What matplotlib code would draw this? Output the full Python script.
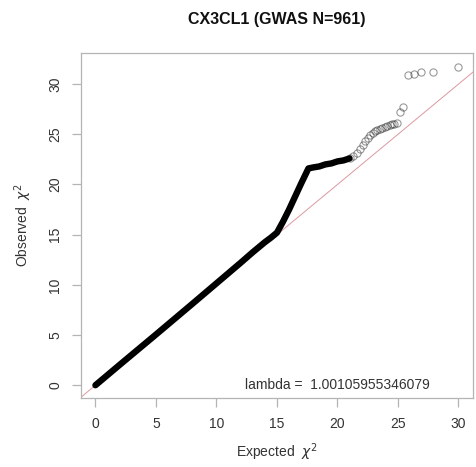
import matplotlib
matplotlib.use("Agg")
import matplotlib.pyplot as plt

plt.rcParams['font.family'] = ['Liberation Sans', 'DejaVu Sans']
plt.rcParams['mathtext.fontset'] = 'dejavusans'

title = "CX3CL1 (GWAS N=961)"
lambda_value = "1.00105955346079"

# dense part of the QQ curve (overlapping points -> solid black band)
dense_expected = [0, 2, 5, 8, 10, 12, 13, 14, 14.5, 15.0, 15.5, 16.0, 16.5, 17.0, 17.6,
                  18.0, 18.5, 19.0, 19.5, 20.0, 20.5, 21.0]
dense_observed = [0, 2.03, 5.05, 8.1, 10.15, 12.2, 13.25, 14.25, 14.7, 15.2, 16.3, 17.5, 18.8, 20.1, 21.6,
                  21.7, 21.8, 22.0, 22.1, 22.3, 22.4, 22.6]

# sparse tail, individual circles
tail_expected = [21.0, 21.3, 21.6, 21.9, 22.1, 22.3, 22.5, 22.7, 22.9, 23.1, 23.3, 23.5, 23.7,
                 23.9, 24.1, 24.3, 24.5, 24.7, 24.9, 25.2, 25.4, 25.8, 26.3, 26.9, 27.9, 30.0]
tail_observed = [22.6, 22.8, 23.1, 23.5, 23.9, 24.3, 24.6, 24.9, 25.1, 25.3, 25.4, 25.5, 25.6,
                 25.7, 25.8, 25.9, 26.0, 26.05, 26.1, 27.2, 27.7, 30.9, 31.0, 31.2, 31.2, 31.7]

xticks = [0, 5, 10, 15, 20, 25, 30]
yticks = [0, 5, 10, 15, 20, 25, 30]

fig = plt.figure(figsize=(4.76, 4.67), dpi=100)
ax = fig.add_axes([0.170, 0.1478, 0.8237, 0.7387])

box_col = '#b4b4b4'
txt_col = '#333333'

# y = x reference line
ax.axline((0, 0), slope=1, color='#dc98a0', lw=0.7, zorder=1)

ax.plot(dense_expected, dense_observed, color='black', lw=4.6, solid_capstyle='round',
        solid_joinstyle='round', zorder=2)
ax.plot(tail_expected, tail_observed, linestyle='none', marker='o', markersize=5.2,
        markerfacecolor='none', markeredgecolor=(0, 0, 0, 0.4), markeredgewidth=0.8, zorder=3)

ax.set_xlim(-1.2, 31.2)
ax.set_ylim(-1.27, 33.1)
ax.set_xticks(xticks)
ax.set_yticks(yticks)
ax.set_yticklabels([str(t) for t in yticks], rotation=90, va='center')

for s in ax.spines.values():
    s.set_color(box_col)
    s.set_linewidth(0.9)
ax.tick_params(length=6.5, width=0.9, color=box_col, labelcolor=txt_col, labelsize=10, pad=7)

ax.set_xlabel(r"Expected  $\chi^2$", fontsize=10, color=txt_col, labelpad=8)
ax.set_ylabel(r"Observed  $\chi^2$", fontsize=10, color=txt_col, labelpad=10)

ax.text(20.0, 0.0, "lambda =  " + lambda_value, ha='center', va='center', fontsize=10, color=txt_col)

fig.text(0.582, 1 - 19.5 / 467, title, ha='center', va='center', fontsize=11.5,
         fontweight='bold', color='#111111')

fig.savefig("out.png", dpi=100)
